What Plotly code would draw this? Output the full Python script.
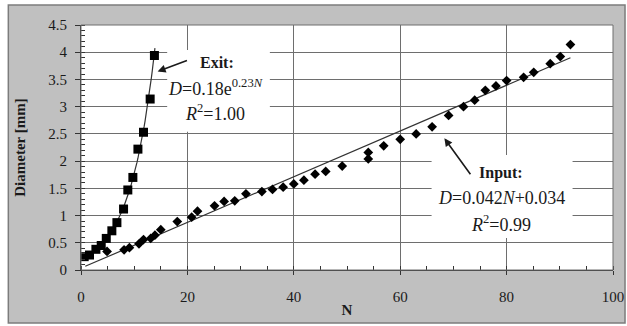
import numpy as np
import plotly.graph_objects as go

# ---- data ----
exit_n = [0.6, 1.6, 2.8, 3.8, 4.75, 5.8, 6.75, 8.0, 8.8, 9.75, 10.7, 11.75, 13.0, 13.8]
exit_d = [0.245, 0.275, 0.38, 0.45, 0.58, 0.72, 0.87, 1.12, 1.47, 1.70, 2.22, 2.53, 3.14, 3.94]

input_n = [4.9, 8.1, 9.1, 10.9, 11.75, 13.1, 13.9, 15.0, 18.1, 20.8, 21.9, 25.1, 26.9,
           28.9, 31.0, 34.0, 36.0, 38.0, 40.0, 41.9, 44.0, 46.0, 49.1, 54.0, 54.0, 56.9,
           60.0, 63.0, 66.0, 69.1, 71.9, 74.0, 76.0, 78.0, 80.0, 83.2, 85.1, 88.2, 90.1, 92.0]
input_d = [0.34, 0.37, 0.41, 0.48, 0.56, 0.58, 0.64, 0.74, 0.89, 0.97, 1.08, 1.18, 1.26,
           1.27, 1.40, 1.44, 1.48, 1.52, 1.58, 1.65, 1.76, 1.81, 1.91, 2.04, 2.16, 2.28,
           2.40, 2.50, 2.63, 2.84, 3.00, 3.12, 3.30, 3.38, 3.48, 3.54, 3.63, 3.79, 3.92, 4.14]

# linear trendline (from the chart label)
lin_slope = 0.042
lin_intercept = 0.034
lin_range = [0.8, 92.0]

y_ticks = [0, 0.5, 1, 1.5, 2, 2.5, 3, 3.5, 4, 4.5]
y_ticktext = ["0", "0.5", "1", "1.5", "2", "2.5", "3", "3.5", "4", "4.5"]
x_ticks = [0, 20, 40, 60, 80, 100]
x_ticktext = ["0", "20", "40", "60", "80", "100"]

# exponential trendline fitted to exit data
b, ln_a = np.polyfit(np.array(exit_n), np.log(np.array(exit_d)), 1)
ex_x = np.linspace(min(exit_n), max(exit_n) + 0.1, 80)
ex_y = np.exp(ln_a) * np.exp(b * ex_x)

lin_x = np.array(lin_range)
lin_y = lin_slope * lin_x + lin_intercept

FONT = "Liberation Serif"
INK = "#1a1a1a"
GRID = "#6e6e6e"

fig = go.Figure()
fig.add_trace(go.Scatter(x=ex_x, y=ex_y, mode="lines",
                         line=dict(color="#333333", width=1.2), showlegend=False, hoverinfo="skip"))
fig.add_trace(go.Scatter(x=lin_x, y=lin_y, mode="lines",
                         line=dict(color="#333333", width=1.2), showlegend=False, hoverinfo="skip"))
fig.add_trace(go.Scatter(x=exit_n, y=exit_d, mode="markers",
                         marker=dict(symbol="square", size=9, color="black"), showlegend=False))
fig.add_trace(go.Scatter(x=input_n, y=input_d, mode="markers",
                         marker=dict(symbol="diamond", size=7.5, color="black"), showlegend=False))

shapes = [
    # gray outer frame
    dict(type="rect", xref="paper", yref="paper", x0=-0.1366, x1=1.0226, y0=-0.2163, y1=1.0816,
         fillcolor="#c0c0c0", line=dict(color="#7c7c7c", width=1.5), layer="below"),
    # white plot area
    dict(type="rect", xref="x", yref="y", x0=0, x1=100, y0=0, y1=4.5,
         fillcolor="white", line=dict(width=0), layer="below"),
    # white label boxes
    dict(type="rect", xref="x", yref="y", x0=16.2, x1=35.5, y0=2.54, y1=4.04,
         fillcolor="white", line=dict(width=0), layer="above"),
    dict(type="rect", xref="x", yref="y", x0=65.9, x1=92.4, y0=0.59, y1=2.11,
         fillcolor="white", line=dict(width=0), layer="above"),
    # plot border
    dict(type="rect", xref="paper", yref="paper", x0=0, x1=1, y0=0, y1=1,
         fillcolor="rgba(0,0,0,0)", line=dict(color=GRID, width=1), layer="above"),
]

tb = dict(family=FONT, size=16, color=INK)
tf = dict(family=FONT, size=18, color=INK)
annotations = [
    dict(x=25.6, y=3.82, text="<b>Exit:</b>", showarrow=False, font=tb),
    dict(x=25.2, y=3.36, text="<i>D</i>=0.18e<sup>0.23<i>N</i></sup>", showarrow=False, font=tf),
    dict(x=25.2, y=2.89, text="<i>R</i><sup>2</sup>=1.00", showarrow=False, font=tf),
    dict(x=79.0, y=1.78, text="<b>Input:</b>", showarrow=False, font=tb),
    dict(x=79.0, y=1.33, text="<i>D</i>=0.042<i>N</i>+0.034", showarrow=False, font=tf),
    dict(x=79.0, y=0.86, text="<i>R</i><sup>2</sup>=0.99", showarrow=False, font=tf),
    dict(x=14.4, y=3.645, ax=20.2, ay=3.86, axref="x", ayref="y", text="", showarrow=True,
         arrowhead=2, arrowsize=1, arrowwidth=1.6, arrowcolor=INK),
    dict(x=68.3, y=2.42, ax=73.4, ay=1.73, axref="x", ayref="y", text="", showarrow=True,
         arrowhead=2, arrowsize=1, arrowwidth=1.6, arrowcolor=INK),
]

fig.update_layout(
    width=627, height=326,
    margin=dict(l=81, r=14, t=25, b=56),
    paper_bgcolor="white", plot_bgcolor="white",
    font=dict(family=FONT, size=15, color=INK),
    shapes=shapes, annotations=annotations,
    xaxis=dict(range=[0, 100], tickvals=x_ticks, ticktext=x_ticktext, automargin=False,
               showgrid=True, gridcolor=GRID, gridwidth=1, zeroline=False,
               showline=True, linecolor="#333333", linewidth=1,
               ticks="outside", ticklen=4, tickcolor="#333333", ticklabelstandoff=9,
               minor=dict(dtick=5, ticks="inside", ticklen=4, tickcolor="#333333", showgrid=False),
               title=dict(text="<b>N</b>", font=dict(family=FONT, size=15, color=INK), standoff=0),
               tickfont=dict(family=FONT, size=15, color=INK)),
    yaxis=dict(range=[0, 4.5], tickvals=y_ticks, ticktext=y_ticktext, automargin=False,
               showgrid=True, gridcolor=GRID, gridwidth=1, zeroline=False,
               showline=True, linecolor="#333333", linewidth=1,
               ticks="outside", ticklen=5, tickcolor="#333333", ticklabelstandoff=5,
               minor=dict(dtick=0.1, ticks="inside", ticklen=4, tickcolor="#333333", showgrid=False),
               title=dict(text="<b>Diameter [mm]</b>", font=dict(family=FONT, size=15, color=INK), standoff=19),
               tickfont=dict(family=FONT, size=15, color=INK)),
)

fig.write_html("out.html", config={"displayModeBar": False},
               post_script="document.body.style.margin='0';document.body.style.overflow='hidden';")
